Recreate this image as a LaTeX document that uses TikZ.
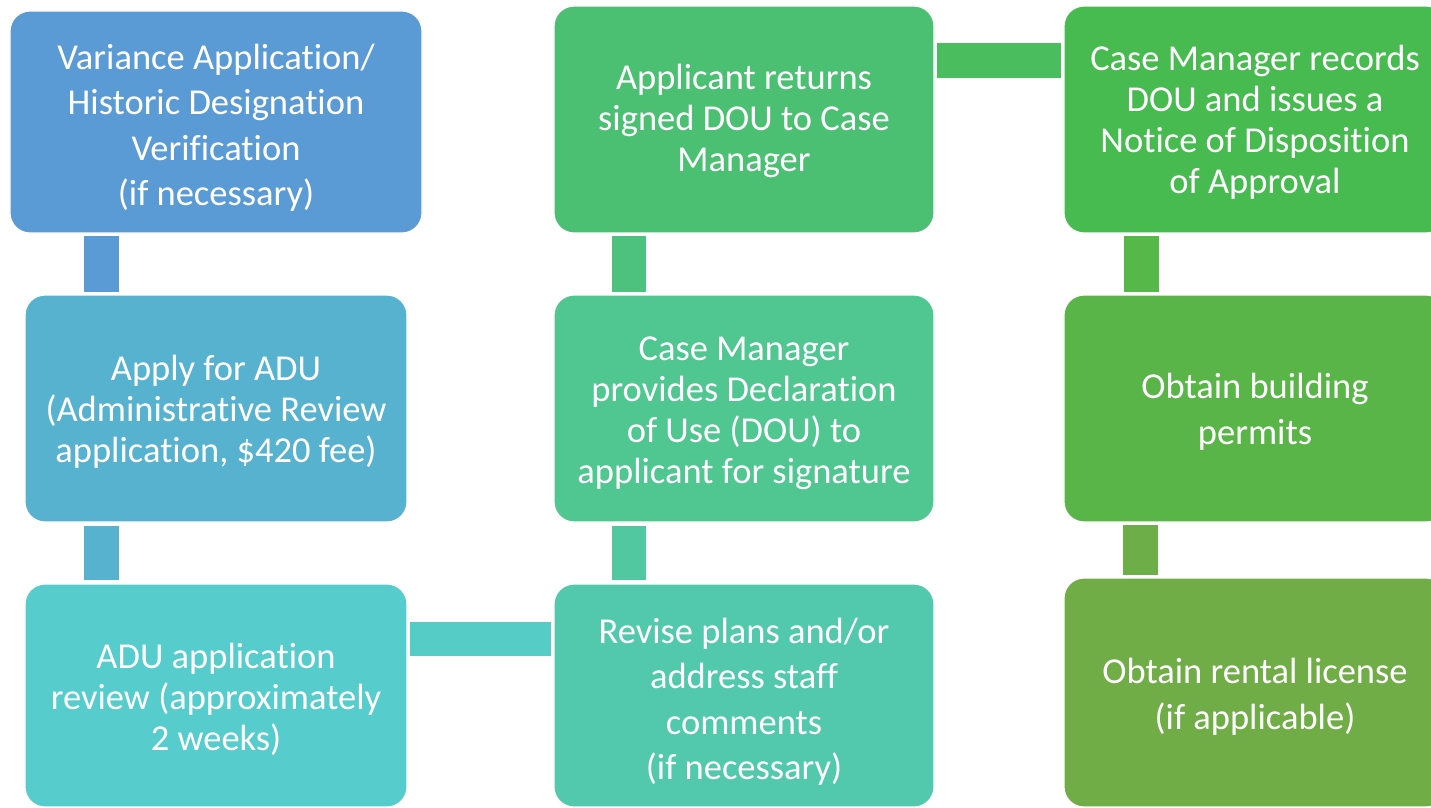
\documentclass[tikz,border=0pt]{standalone}
\usepackage{fontspec}
\setmainfont{Carlito}[Ligatures={NoCommon}]
\usetikzlibrary{calc}

% step colours, blue through teal to green
\definecolor{cA}{HTML}{5B9BD5}
\definecolor{cB}{HTML}{57B2D0}
\definecolor{cC}{HTML}{56CCCC}
\definecolor{cD}{HTML}{52C9AD}
\definecolor{cE}{HTML}{50C690}
\definecolor{cF}{HTML}{4BC073}
\definecolor{cG}{HTML}{48BB50}
\definecolor{cH}{HTML}{5AB548}
\definecolor{cI}{HTML}{70AD47}
% connector colours
\definecolor{kAB}{HTML}{5B9BD5}
\definecolor{kBC}{HTML}{57B2D0}
\definecolor{kCD}{HTML}{55CCC6}
\definecolor{kDE}{HTML}{51C8A0}
\definecolor{kEF}{HTML}{4DC27F}
\definecolor{kFG}{HTML}{4ABE5F}
\definecolor{kGH}{HTML}{55B849}
\definecolor{kHI}{HTML}{6DAE48}

% invisible rule that makes the first line taller, lowering the text block
\newcommand\firstlift[1]{\rule{0pt}{#1}}

\tikzset{
  stepbox/.style={rectangle, rounded corners=20pt, draw=white, line width=1.2pt,
    text=white, align=center, inner sep=0pt, outer sep=0pt,
    font=\fontsize{36.5}{41}\selectfont},
  loose/.style={font=\fontsize{36.5}{45.6}\selectfont},
}

\begin{document}
\begin{tikzpicture}[x=1pt,y=-1pt]
\useasboundingbox (0,0) rectangle (1431,807);
\clip (0,0) rectangle (1431,807);

% left column
\node[stepbox, loose, fill=cA, minimum width=412pt, minimum height=222pt] (A) at (216,122)
  {\firstlift{37pt}Variance Application/\\Historic Designation\\Verification\\(if necessary)};
\node[stepbox, fill=cB, minimum width=382pt, minimum height=227pt] (B) at (216,408.5)
  {\firstlift{32pt}Apply for ADU\\(Administrative Review\\application, \$420 fee)};
\node[stepbox, fill=cC, minimum width=382pt, minimum height=223pt] (C) at (216,695.5)
  {\firstlift{33pt}ADU application\\review (approximately\\2 weeks)};

% middle column
\node[stepbox, loose, fill=cD, minimum width=380pt, minimum height=223pt] (D) at (744,695.5)
  {\firstlift{38pt}Revise plans and/or\\address staff\\comments\\(if necessary)};
\node[stepbox, fill=cE, minimum width=380pt, minimum height=227pt] (E) at (744,408.5)
  {\firstlift{33pt}Case Manager\\provides Declaration\\of Use (DOU) to\\applicant for signature};
\node[stepbox, fill=cF, minimum width=380pt, minimum height=227pt] (F) at (744,119.5)
  {\firstlift{28pt}Applicant returns\\signed DOU to Case\\Manager};

% right column
\node[stepbox, fill=cG, minimum width=382pt, minimum height=227pt] (G) at (1255,119.5)
  {\firstlift{30pt}Case Manager records\\DOU and issues a\\Notice of Disposition\\of Approval};
\node[stepbox, loose, fill=cH, minimum width=382pt, minimum height=227pt] (H) at (1255,408.5)
  {\firstlift{32pt}Obtain building\\permits};
\node[stepbox, loose, fill=cI, minimum width=382pt, minimum height=229pt] (I) at (1255,692.5)
  {\firstlift{34pt}Obtain rental license\\(if applicable)};

% connecting bars
\fill[kAB] ($(A.south west)+(74,3)$) rectangle ($(B.north west)+(94,-3)$);
\fill[kBC] ($(B.south west)+(59,4)$) rectangle ($(C.north west)+(94,-4)$);
\fill[kCD] ($(C.north east)+(3,38)$) rectangle ($(D.north west)+(-3,72)$);
\fill[kDE] ($(D.north west)+(58,-4)$) rectangle ($(E.south west)+(92,4)$);
\fill[kEF] ($(E.north west)+(58,-3)$) rectangle ($(F.south west)+(92,3)$);
\fill[kFG] ($(F.north east)+(3,37)$) rectangle ($(G.north west)+(-3,72)$);
\fill[kGH] ($(G.south west)+(60,3)$) rectangle ($(H.north west)+(95,-3)$);
\fill[kHI] ($(H.south west)+(59,3)$) rectangle ($(I.north west)+(94,-3)$);
\end{tikzpicture}
\end{document}
